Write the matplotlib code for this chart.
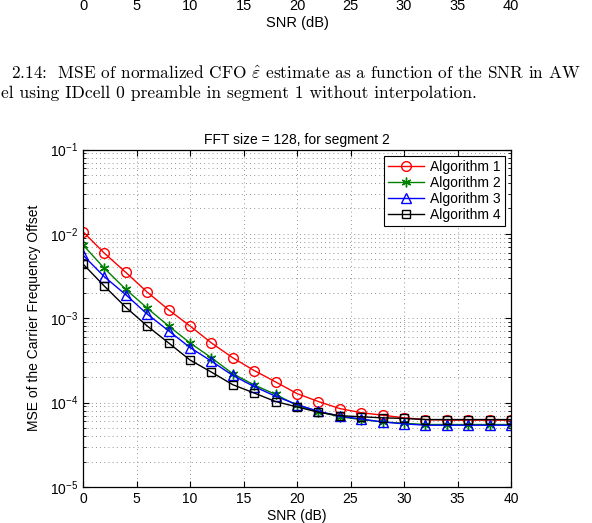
import matplotlib
matplotlib.use("Agg")
import matplotlib.pyplot as plt
import numpy as np
from matplotlib.ticker import LogLocator, NullFormatter

plt.rcParams['font.family'] = ['Liberation Sans', 'DejaVu Sans']
plt.rcParams['mathtext.fontset'] = 'custom'
plt.rcParams['mathtext.rm'] = 'Liberation Sans'
plt.rcParams['mathtext.it'] = 'Liberation Sans:italic'

snr = [0, 2, 4, 6, 8, 10, 12, 14, 16, 18, 20, 22, 24, 26, 28, 30, 32, 34, 36, 38, 40]
alg1 = [0.0106, 0.0059, 0.0035, 0.00204, 0.00126, 0.00081, 0.00051, 0.00034, 0.00024, 0.000176,
        0.000128, 0.000103, 0.000085, 0.000076, 0.000071, 0.000066, 0.000063, 0.000062, 0.000062,
        0.000062, 0.000062]
alg2 = [0.0074, 0.0039, 0.0022, 0.00132, 0.00081, 0.00051, 0.00034, 0.00022, 0.000162, 0.000125,
        0.000093, 0.000078, 0.000068, 0.000063, 0.000059, 0.000057, 0.000055, 0.000055, 0.000055,
        0.000055, 0.000055]
alg3 = [0.0056, 0.0031, 0.0019, 0.00112, 0.00071, 0.00045, 0.00031, 0.00021, 0.000155, 0.000119,
        0.000095, 0.000079, 0.000069, 0.000064, 0.000059, 0.000056, 0.000054, 0.000054, 0.000054,
        0.000054, 0.000054]
alg4 = [0.0044, 0.0024, 0.00135, 0.00081, 0.00051, 0.00032, 0.00023, 0.000163, 0.00013, 0.000103,
        0.000089, 0.000077, 0.00007, 0.000068, 0.000066, 0.000065, 0.000063, 0.000063, 0.000063,
        0.000063, 0.000063]
labels = ['Algorithm 1', 'Algorithm 2', 'Algorithm 3', 'Algorithm 4']
xticks = [0, 5, 10, 15, 20, 25, 30, 35, 40]

W, H = 592, 523
fig = plt.figure(figsize=(W / 100, H / 100), dpi=100)

# partial axis of the previous figure at the top of the page
axt = fig.add_axes([83 / W, 1 + 2 / H, (511 - 83) / W, 0.05])
axt.set_xlim(0, 40)
axt.set_xticks(xticks)
axt.tick_params(axis='x', length=0, labelsize=10.5, pad=1)
axt.set_yticks([])
for s in axt.spines.values():
    s.set_visible(False)
axt.patch.set_visible(False)
axt.set_xlabel('SNR (dB)', fontsize=10.5, labelpad=2)

# visible part of the previous figure's caption
fig.text(11 / W, 1 - 72.5 / H,
         r'2.14:  MSE of normalized CFO $\hat{\varepsilon}$ estimate as a function of the SNR in AW',
         family='cmr10', fontsize=12.45, va='center', ha='left', math_fontfamily='cm')
fig.text(1 / W, 1 - 93 / H,
         'el using IDcell 0 preamble in segment 1 without interpolation.',
         family='cmr10', fontsize=12.6, va='center', ha='left')

ax = fig.add_axes([83 / W, 1 - 487 / H, (511 - 83) / W, (487 - 149.5) / H])
styles = [
    dict(color='red', marker='o', ms=7),
    dict(color=(0, 0.5, 0), marker=(6, 2, 0), ms=7),
    dict(color='blue', marker='^', ms=7.5),
    dict(color='black', marker='s', ms=6),
]
for y, lab, st in zip([alg1, alg2, alg3, alg4], labels, styles):
    ax.semilogy(snr, y, color=st['color'], marker=st['marker'], ms=st['ms'],
                mfc='none', mec=st['color'], mew=1.0, lw=1.0, label=lab)

ax.set_xlim(0, 40)
ax.set_ylim(1e-5, 1e-1)
ax.set_xticks(xticks)
ax.yaxis.set_major_locator(LogLocator(base=10, numticks=10))
ax.yaxis.set_minor_locator(LogLocator(base=10, subs=np.arange(2, 10), numticks=20))
ax.yaxis.set_minor_formatter(NullFormatter())
ax.tick_params(which='both', direction='in', top=True, right=True, labelsize=10)
ax.tick_params(which='major', length=4)
ax.tick_params(which='minor', length=2)
ax.grid(True, which='major', axis='both', linestyle=(0, (1, 4)), color='0.45', lw=0.6)
ax.grid(True, which='minor', axis='y', linestyle=(0, (1, 4)), color='0.45', lw=0.6)
for s in ax.spines.values():
    s.set_linewidth(0.9)

ax.set_xlabel('SNR (dB)', fontsize=10, labelpad=2)
ax.set_ylabel('MSE of the Carrier Frequency Offset', fontsize=10, labelpad=6)
ax.set_title('FFT size = 128, for segment 2', fontsize=10, pad=4)

leg = ax.legend(loc='upper right', fontsize=10, frameon=True, fancybox=False,
                edgecolor='black', framealpha=1, borderpad=0.3, labelspacing=0.15,
                handlelength=2.6, handletextpad=0.4, borderaxespad=0.45)
leg.get_frame().set_linewidth(0.8)

fig.savefig('out.png', dpi=100)
